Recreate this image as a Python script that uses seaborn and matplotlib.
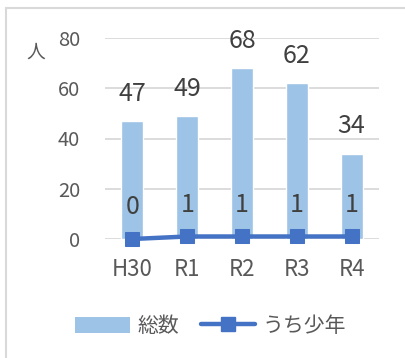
import matplotlib
matplotlib.use("Agg")
import matplotlib.pyplot as plt
import seaborn as sns
import pandas as pd
from matplotlib.lines import Line2D
from matplotlib.patches import Patch

years = ["H30", "R1", "R2", "R3", "R4"]
total = [47, 49, 68, 62, 34]
juvenile = [0, 1, 1, 1, 1]
y_ticks = [0, 20, 40, 60, 80]

sns.set_theme(style="white")
plt.rcParams["font.family"] = ["Noto Sans CJK JP", "DejaVu Sans"]

BAR = "#9DC3E6"
LINE = "#4472C4"
TXT = "#595959"
LBL = "#404040"

df = pd.DataFrame({"year": years, "total": total, "juvenile": juvenile})

fig = plt.figure(figsize=(4.05, 3.58), dpi=100)
ax = fig.add_axes([105 / 405, 1 - 239 / 358, 274 / 405, 201 / 358])

sns.barplot(data=df, x="year", y="total", color=BAR, width=0.4,
            saturation=1, ax=ax, zorder=2)
sns.lineplot(data=df, x="year", y="juvenile", color=LINE, linewidth=3.2,
             marker="s", markersize=10, markeredgecolor=LINE, ax=ax,
             zorder=4, clip_on=False)

for i, v in enumerate(total):
    ax.annotate(str(v), (i, v), xytext=(0, 19.5), textcoords="offset points",
                ha="center", va="center", fontsize=18, color=LBL)
for i, v in enumerate(juvenile):
    ax.annotate(str(v), (i, v), xytext=(0, 23), textcoords="offset points",
                ha="center", va="center", fontsize=18, color=LBL)

ax.set_xlim(-0.5, 4.5)
ax.set_ylim(0, 80)
ax.set_yticks(y_ticks)
ax.yaxis.grid(True, color="#D9D9D9", linewidth=1.3, zorder=0)
ax.set_axisbelow(True)
for s in ax.spines.values():
    s.set_visible(False)
ax.tick_params(axis="y", length=0, pad=18, labelsize=14.5, labelcolor=TXT)
ax.tick_params(axis="x", length=0, pad=14, labelsize=16, labelcolor=TXT)
ax.set_xlabel("")
ax.set_ylabel("")

fig.text(36 / 405, 1 - 52 / 358, "人", ha="center", va="center",
         fontsize=13.5, color=TXT)

handles = [Patch(facecolor=BAR, edgecolor="none"),
           Line2D([0], [0], color=LINE, linewidth=3.2, marker="s",
                  markersize=10)]
fig.legend(handles, ["総数", "うち少年"], loc="center",
           bbox_to_anchor=(211 / 405, 1 - 326 / 358), ncol=2, frameon=False,
           fontsize=15, labelcolor=TXT, handlelength=2.6, handleheight=0.8,
           columnspacing=1.0, handletextpad=0.4)

# chart area outline
fig.add_artist(Line2D([6 / 405, 6 / 405], [0, 1 - 8 / 358],
                      transform=fig.transFigure, color="#D9D9D9", lw=1.5))
fig.add_artist(Line2D([6 / 405, 1], [1 - 8 / 358, 1 - 8 / 358],
                      transform=fig.transFigure, color="#D9D9D9", lw=1.5))

fig.savefig("out.png", dpi=100, facecolor="white")
